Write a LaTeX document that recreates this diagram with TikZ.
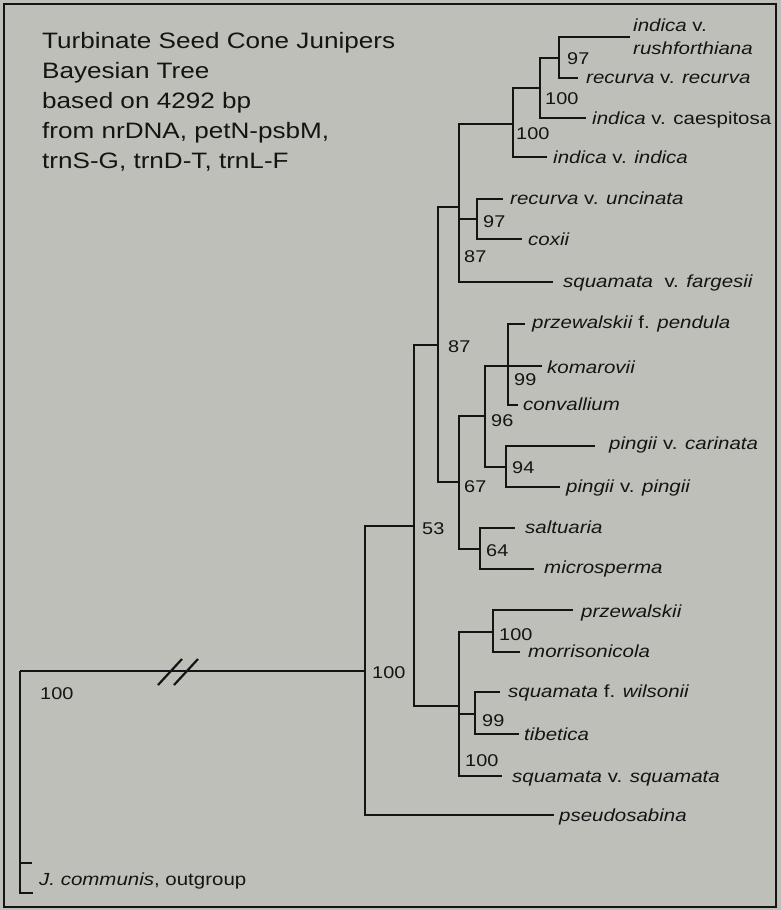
\documentclass[tikz,border=0pt]{standalone}
\usepackage{fontspec}
\setmainfont{Liberation Sans}[FakeStretch=1.17]
\usepackage{xcolor}
\definecolor{cardgray}{RGB}{190,191,184}
\definecolor{inkblack}{RGB}{20,20,20}
\usetikzlibrary{calc}
\newcommand{\taxon}[1]{\textit{#1}}

\begin{document}
\begin{tikzpicture}[
      x=1pt, y=-1pt,
      branch/.style={draw=inkblack, line width=2.7pt},
      brkmark/.style={draw=inkblack, line width=2.2pt},
      frame/.style={draw=inkblack, line width=2pt},
      taxlabel/.style={anchor=base west, inner sep=0pt, text=inkblack,
                       font=\fontsize{17.5}{23}\selectfont},
      supp/.style={anchor=base west, inner sep=0pt, text=inkblack,
                   font=\fontsize{17}{20}\selectfont},
      title/.style={anchor=north west, inner sep=0pt, align=left, text=inkblack,
                    font=\fontsize{22.3}{30}\selectfont}
  ]
  %% ---- card: background and frame
  \fill[cardgray] (0,0) rectangle (781,910);
  \useasboundingbox (0,0) rectangle (781,910);
  \draw[frame] (4,4) rectangle (776,907);

  \node[title] (title) at (42,32) {Turbinate Seed Cone Junipers\\Bayesian Tree\\based on 4292 bp\\from nrDNA, petN-psbM,\\trnS-G, trnD-T, trnL-F};

  %% ---- internal nodes (at the vertical bar, where the parent branch enters)
  \coordinate (root)  at (20,671);
  \coordinate (nR)    at (365,671);
  \coordinate (n53)   at (414,526);
  \coordinate (n87a)  at (438,345);
  \coordinate (n87b)  at (459,207);
  \coordinate (n100o) at (513,124);
  \coordinate (n100i) at (540,88);
  \coordinate (n97a)  at (559,58);
  \coordinate (n97b)  at (477,219);
  \coordinate (n67)   at (459,482);
  \coordinate (n96)   at (485,416);
  \coordinate (n99a)  at (508,366);
  \coordinate (n94)   at (506,467);
  \coordinate (n64)   at (480,549);
  \coordinate (nSq)   at (459,706);
  \coordinate (n100p) at (493,632);
  \coordinate (n99b)  at (475,714);

  %% ---- branch tips
  \coordinate (trush)    at (630,37);
  \coordinate (trecurva) at (578,78);
  \coordinate (tcaesp)   at (586,118);
  \coordinate (tindica)  at (547,157);
  \coordinate (tuncin)   at (503,199);
  \coordinate (tcoxii)   at (522,239);
  \coordinate (tfarg)    at (553,282);
  \coordinate (tpendula) at (525,324);
  \coordinate (tkomar)   at (542,366);
  \coordinate (tconv)    at (518,405);
  \coordinate (tcarin)   at (595,446);
  \coordinate (tpingii)  at (560,487);
  \coordinate (tsaltu)   at (515,528);
  \coordinate (tmicro)   at (534,569);
  \coordinate (tprzew)   at (573,610);
  \coordinate (tmorri)   at (520,652);
  \coordinate (twilso)   at (500,692);
  \coordinate (ttibet)   at (519,734);
  \coordinate (tsquam)   at (502,776);
  \coordinate (tpseudo)  at (554,815);
  \coordinate (togtop)   at (32,863);
  \coordinate (togbot)   at (33,893);
  \coordinate (brk)      at (178,671);

  %% ---- branches
  \draw[branch] (root) -- (nR);
  \draw[branch] (root) |- (togbot);
  \draw[branch] (togtop) -- (togtop -| root);
  \draw[branch] (nR)    |- (n53);
  \draw[branch] (nR)    |- (tpseudo);
  \draw[branch] (n53)   |- (n87a);
  \draw[branch] (n53)   |- (nSq);
  \draw[branch] (n87a)  |- (n87b);
  \draw[branch] (n87a)  |- (n67);
  \draw[branch] (n87b)  |- (n100o);
  \draw[branch] (n87b)  |- (n97b);
  \draw[branch] (n87b)  |- (tfarg);
  \draw[branch] (n100o) |- (n100i);
  \draw[branch] (n100o) |- (tindica);
  \draw[branch] (n100i) |- (n97a);
  \draw[branch] (n100i) |- (tcaesp);
  \draw[branch] (n97a)  |- (trush);
  \draw[branch] (n97a)  |- (trecurva);
  \draw[branch] (n97b)  |- (tuncin);
  \draw[branch] (n97b)  |- (tcoxii);
  \draw[branch] (n67)   |- (n96);
  \draw[branch] (n67)   |- (n64);
  \draw[branch] (n96)   |- (n99a);
  \draw[branch] (n96)   |- (n94);
  \draw[branch] (n99a)  |- (tpendula);
  \draw[branch] (n99a)  -- (tkomar);
  \draw[branch] (n99a)  |- (tconv);
  \draw[branch] (n94)   |- (tcarin);
  \draw[branch] (n94)   |- (tpingii);
  \draw[branch] (n64)   |- (tsaltu);
  \draw[branch] (n64)   |- (tmicro);
  \draw[branch] (nSq)   |- (n100p);
  \draw[branch] (nSq)   |- (n99b);
  \draw[branch] (nSq)   |- (tsquam);
  \draw[branch] (n100p) |- (tprzew);
  \draw[branch] (n100p) |- (tmorri);
  \draw[branch] (n99b)  |- (twilso);
  \draw[branch] (n99b)  |- (ttibet);

  %% ---- break on the long root branch
  \draw[brkmark] ($(brk)+(-20,14)$) -- ($(brk)+(4,-12)$);
  \draw[brkmark] ($(brk)+(-4,14)$)  -- ($(brk)+(20,-12)$);

  %% ---- support values
  \node[supp] (s97a)    at (567,64)  {97};
  \node[supp] (s100i)   at (545,104) {100};
  \node[supp] (s100o)   at (516,139) {100};
  \node[supp] (s97b)    at (483,227) {97};
  \node[supp] (s87b)    at (464,262) {87};
  \node[supp] (s87a)    at (448,352) {87};
  \node[supp] (s99a)    at (514,385) {99};
  \node[supp] (s96)     at (491,426) {96};
  \node[supp] (s94)     at (512,473) {94};
  \node[supp] (s67)     at (464,492) {67};
  \node[supp] (s53)     at (422,534) {53};
  \node[supp] (s64)     at (486,556) {64};
  \node[supp] (s100p)   at (499,640) {100};
  \node[supp] (s100r)   at (372,678) {100};
  \node[supp] (s99b)    at (482,726) {99};
  \node[supp] (s100q)   at (465,766) {100};
  \node[supp] (s100rt)  at (40,699)  {100};

  %% ---- taxon labels
  \node[taxlabel, anchor=north west, align=left] (lrush) at (633,19) {\taxon{indica} v.\\\taxon{rushforthiana}};
  \node[taxlabel] (lrecurva) at (586,83)  {\taxon{recurva} v. \taxon{recurva}};
  \node[taxlabel] (lcaesp)   at (592,124) {\taxon{indica} v. caespitosa};
  \node[taxlabel] (lindica)  at (553,163) {\taxon{indica} v. \taxon{indica}};
  \node[taxlabel] (luncin)   at (510,204) {\taxon{recurva} v. \taxon{uncinata}};
  \node[taxlabel] (lcoxii)   at (528,245) {\taxon{coxii}};
  \node[taxlabel] (lfarg)    at (563,287) {\taxon{squamata}\ \ v. \taxon{fargesii}};
  \node[taxlabel] (lpendula) at (532,328) {\taxon{przewalskii} f. \taxon{pendula}};
  \node[taxlabel] (lkomar)   at (547,373) {\taxon{komarovii}};
  \node[taxlabel] (lconv)    at (523,410) {\taxon{convallium}};
  \node[taxlabel] (lcarin)   at (609,449) {\taxon{pingii} v. \taxon{carinata}};
  \node[taxlabel] (lpingii)  at (566,492) {\taxon{pingii} v. \taxon{pingii}};
  \node[taxlabel] (lsaltu)   at (525,533) {\taxon{saltuaria}};
  \node[taxlabel] (lmicro)   at (544,573) {\taxon{microsperma}};
  \node[taxlabel] (lprzew)   at (581,617) {\taxon{przewalskii}};
  \node[taxlabel] (lmorri)   at (528,657) {\taxon{morrisonicola}};
  \node[taxlabel] (lwilso)   at (508,697) {\taxon{squamata} f. \taxon{wilsonii}};
  \node[taxlabel] (ltibet)   at (524,740) {\taxon{tibetica}};
  \node[taxlabel] (lsquam)   at (512,782) {\taxon{squamata} v. \taxon{squamata}};
  \node[taxlabel] (lpseudo)  at (559,821) {\taxon{pseudosabina}};
  \node[taxlabel] (lcommun)  at (39,885)  {\taxon{J. communis}, outgroup};
\end{tikzpicture}
\end{document}
